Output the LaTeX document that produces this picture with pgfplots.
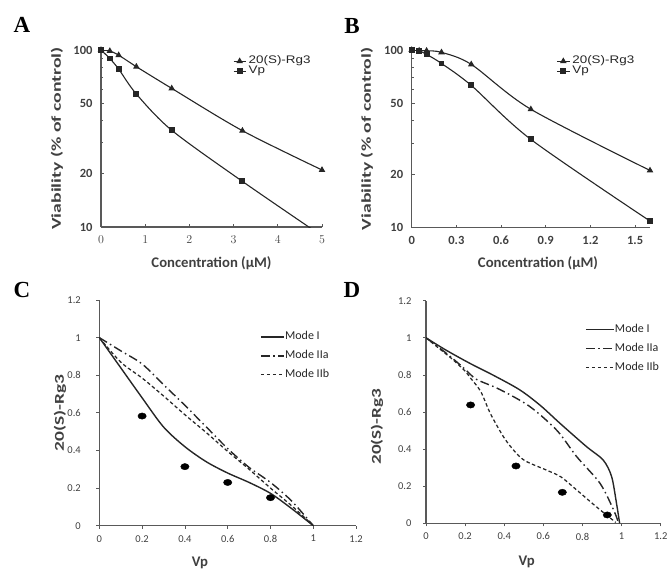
\documentclass[border=0pt]{standalone}
\usepackage{fontspec}
\setmainfont{Carlito}
\newfontfamily\arialf[FakeStretch=1.22]{Liberation Sans}
\newfontfamily\timesf{Liberation Serif}
\usepackage{graphicx}
\usepackage{pgfplots}
\pgfplotsset{compat=1.18}
\definecolor{ax}{HTML}{595959}
\definecolor{lab}{HTML}{404040}
\definecolor{ln}{HTML}{262626}
\pgfplotsset{
  mybase/.style={scale only axis, anchor=south west, axis lines=left,
    axis line style={-, line width=1.1pt, draw=ax},
    tick style={draw=ax, line width=0.8pt},
    tick label style={text=lab},
    xlabel style={font=\fontsize{14.7}{16}\selectfont\bfseries, text=lab},
    ylabel style={text=lab, font=\fontsize{13.5}{15}\selectfont\bfseries},
  },
  mytop/.style={mybase, ymin=10, ymax=100,
    ytick={10,20,50,100}, yticklabels={10,20,50,100},
    minor ytick={30,40,60,70,80,90},
    tick align=inside, major tick length=3pt, minor tick length=2.5pt,
    tick label style={font=\fontsize{12.5}{13}\selectfont\bfseries},
    yticklabel style={xshift=-5pt}, xticklabel style={yshift=-5pt},
    xlabel={Concentration (µM)}, ylabel={\scalebox{1.46}[1]{Viability (\% of control)}},
    legend style={draw=none, fill=none, font=\arialf\fontsize{11}{12}\selectfont, text=ln,
      anchor=north west, row sep=1.5pt, inner sep=0pt, column sep=2.5pt,
      nodes={inner sep=0pt, text height=7pt, text depth=1.5pt}},
    legend cell align=left,
    legend image code/.code={\draw[mark repeat=2,mark phase=2] plot coordinates {(0cm,0cm) (0.21cm,0cm) (0.42cm,0cm)};},
  },
  mybot/.style={mybase, xmin=0, xmax=1.2, ymin=0, ymax=1.2,
    xtick={0,0.2,0.4,0.6,0.8,1,1.2}, ytick={0,0.2,0.4,0.6,0.8,1,1.2},
    xticklabels={0,0.2,0.4,0.6,0.8,1,1.2}, yticklabels={0,0.2,0.4,0.6,0.8,1,1.2},
    tick align=outside, major tick length=3pt,
    tick label style={font=\fontsize{10.5}{12}\selectfont},
    xlabel={Vp},
    legend style={draw=none, fill=none, font=\fontsize{12}{12}\selectfont, text=ln,
      anchor=north west, row sep=9pt, inner sep=0pt, column sep=0pt,
      nodes={inner sep=0.5pt, text height=7.5pt, text depth=1.5pt}},
    legend cell align=left,
  },
  plrg/.style={ln, line width=1.1pt, smooth, mark=triangle*, mark size=2.7pt, mark options={solid, fill=ln}},
  plvp/.style={ln, line width=1.1pt, smooth, mark=square*, mark size=2.4pt, mark options={solid, fill=ln}},
  pldots/.style={only marks, mark=*, mark size=3.5pt, mark options={fill=black, draw=black, xscale=1.2, yscale=0.9}},
  plm1/.style={ln, line width=1.4pt, smooth, no markers},
  plm2a/.style={ln, line width=1.4pt, smooth, no markers, dash pattern=on 9pt off 3.5pt on 1.5pt off 3.5pt},
  plm2b/.style={ln, line width=1.25pt, smooth, no markers, dash pattern=on 3.5pt off 2.5pt},
}
\begin{document}
\begin{tikzpicture}
\useasboundingbox (0pt,0pt) rectangle (667pt,-571pt);

% ---------- A ----------
\begin{axis}[ymode=log, mytop, at={(101pt,-227pt)}, width=221pt, height=177pt,
  xmin=0, xmax=5, xtick={0,1,2,3,4,5},
  xlabel style={at={(axis description cs:0.5,-0.203)}, anchor=center},
  ylabel style={at={(axis description cs:-0.199,0.5)}, anchor=center},
  legend style={at={(axis description cs:0.597,0.962)}}]
\addplot[plrg] coordinates {(0,100)(0.2,98.7)(0.4,93.5)(0.8,80.5)(1.6,60.7)(3.2,35)(5,21)};
\addlegendentry{20(S)-Rg3}
\addplot[plvp] coordinates {(0,100)(0.2,89.5)(0.4,78)(0.8,56.4)(1.6,35.2)(3.2,18.1)(5,8.9)};
\addlegendentry{Vp}
\end{axis}

% ---------- B ----------
\begin{axis}[ymode=log, mytop, at={(411.7pt,-227.7pt)}, width=238.3pt, height=177.7pt,
  xmin=0, xmax=1.6, xtick={0,0.3,0.6,0.9,1.2,1.5},
  xticklabels={0,0.3,0.6,0.9,1.2,1.5},
  xlabel style={at={(axis description cs:0.53,-0.199)}, anchor=center},
  ylabel style={at={(axis description cs:-0.188,0.5)}, anchor=center},
  legend style={at={(axis description cs:0.608,0.962)}}]
\addplot[plrg] coordinates {(0,100)(0.05,99.2)(0.1,99)(0.2,97)(0.4,83)(0.8,46.4)(1.6,21)};
\addlegendentry{20(S)-Rg3}
\addplot[plvp] coordinates {(0,100)(0.05,98.8)(0.1,94.5)(0.2,84)(0.4,63.2)(0.8,31.4)(1.6,10.9)};
\addlegendentry{Vp}
\end{axis}

% ---------- C ----------
\begin{axis}[mybot, at={(99.3pt,-525.7pt)}, width=256.8pt, height=225.7pt,
  ylabel={\scalebox{1.44}[1]{20(S)-Rg3}},
  yticklabel style={xshift=-12pt}, xticklabel style={yshift=-3pt},
  xlabel style={at={(axis description cs:0.392,-0.165)}, anchor=center},
  ylabel style={at={(axis description cs:-0.153,0.5)}, anchor=center},
  legend image code/.code={\draw (0pt,0pt) -- (23pt,0pt);},
  legend style={at={(axis description cs:0.626,0.86)}}]
\addplot[plm1] coordinates {(0,1)(0.1,0.84)(0.2,0.68)(0.3,0.525)(0.4,0.42)(0.5,0.34)(0.6,0.28)(0.7,0.23)(0.8,0.172)(0.9,0.09)(1,0)};
\addlegendentry{Mode I}
\addplot[plm2a] coordinates {(0,1)(0.1,0.93)(0.2,0.86)(0.3,0.75)(0.4,0.64)(0.5,0.525)(0.6,0.41)(0.7,0.31)(0.8,0.23)(0.9,0.13)(1,0)};
\addlegendentry{Mode IIa}
\addplot[plm2b] coordinates {(0,1)(0.1,0.87)(0.2,0.785)(0.3,0.69)(0.4,0.59)(0.5,0.495)(0.6,0.395)(0.7,0.3)(0.8,0.2)(0.9,0.105)(1,0)};
\addlegendentry{Mode IIb}
\addplot[pldots, forget plot] coordinates {(0.2,0.583)(0.4,0.314)(0.6,0.23)(0.8,0.149)};
\end{axis}

% ---------- D ----------
\begin{axis}[mybot, at={(426pt,-523.3pt)}, width=234.7pt, height=222.6pt,
  ylabel={\scalebox{1.42}[1]{20(S)-Rg3}},
  yticklabel style={xshift=-8pt}, xticklabel style={yshift=-3pt},
  xlabel style={at={(axis description cs:0.429,-0.174)}, anchor=center},
  ylabel style={at={(axis description cs:-0.209,0.434)}, anchor=center},
  legend image code/.code={\draw (0pt,0pt) -- (28pt,0pt);},
  legend style={at={(axis description cs:0.677,0.895)}}]
\addplot[plm1] coordinates {(0,1)(0.1,0.935)(0.225,0.862)(0.35,0.795)(0.48,0.719)(0.585,0.635)(0.685,0.539)(0.821,0.413)(0.906,0.341)(0.949,0.252)(0.974,0.108)(0.99,0)};
\addlegendentry{Mode I}
\addplot[plm2a] coordinates {(0,1)(0.1,0.92)(0.19,0.84)(0.25,0.78)(0.28,0.765)(0.38,0.72)(0.53,0.63)(0.67,0.5)(0.77,0.36)(0.89,0.215)(0.96,0.07)(0.985,0)};
\addlegendentry{Mode IIa}
\addplot[plm2b] coordinates {(0,1)(0.07,0.94)(0.14,0.88)(0.2,0.82)(0.23,0.78)(0.28,0.71)(0.33,0.59)(0.4,0.46)(0.46,0.38)(0.51,0.335)(0.62,0.285)(0.69,0.25)(0.77,0.18)(0.87,0.09)(0.97,0.005)};
\addlegendentry{Mode IIb}
\addplot[pldots, forget plot] coordinates {(0.228,0.638)(0.46,0.309)(0.697,0.167)(0.927,0.045)};
\end{axis}

% panel letters
\node[font=\timesf\bfseries\fontsize{23}{23}\selectfont] at (22pt,-25pt) {A};
\node[font=\timesf\bfseries\fontsize{23}{23}\selectfont] at (352pt,-26pt) {B};
\node[font=\timesf\bfseries\fontsize{23}{23}\selectfont] at (22pt,-290pt) {C};
\node[font=\timesf\bfseries\fontsize{23}{23}\selectfont] at (352pt,-290pt) {D};
\end{tikzpicture}
\end{document}
